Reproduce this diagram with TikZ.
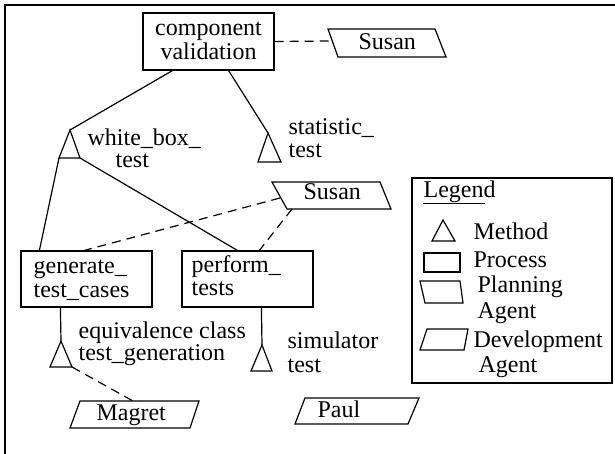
\documentclass[tikz,border=0pt]{standalone}
\usepackage{fontspec}
\setmainfont{Liberation Serif}
\begin{document}
\begin{tikzpicture}[x=1pt,y=-1pt,line width=1.2pt,
  font=\fontsize{24}{24.5}\selectfont,
  lbl/.style={anchor=base west,inner sep=0pt},
  lblc/.style={anchor=base,inner sep=0pt},
  proc/.style={draw,inner sep=0pt},
  dsh/.style={dash pattern=on 9pt off 6pt},
  shp/.style={line width=1.2pt}]
\useasboundingbox (0,0) rectangle (615,454);
% outer frame
\draw (5,454) -- (5,5) -- (615,5);

% process boxes
\node[proc,minimum width=131pt,minimum height=57pt] (cv) at (208.5,41.5) {};
\node[lblc] (cvt1) at (208.5,36) {component};
\node[lblc] (cvt2) at (208.5,60) {validation};
\node[proc,minimum width=131pt,minimum height=56pt] (gen) at (86.5,279) {};
\node[lbl] (gent1) at (33,273) {generate\_};
\node[lbl] (gent2) at (33,297) {test\_cases};
\node[proc,minimum width=131pt,minimum height=56pt] (perf) at (247.5,279) {};
\node[lbl] (perft1) at (191,272) {perform\_};
\node[lbl] (perft2) at (191,295) {tests};

% method triangles
\coordinate (wbA) at (70,130); \coordinate (wbL) at (59,158); \coordinate (wbR) at (80,158);
\draw[shp] (wbA) -- (wbL) -- (wbR) -- cycle;
\node[lbl] (wbt1) at (87,146) {white\_box\_};
\node[lbl] (wbt2) at (115,168) {test};
\coordinate (stA) at (268,133); \coordinate (stL) at (258,162); \coordinate (stR) at (281,162);
\draw[shp] (stA) -- (stL) -- (stR) -- cycle;
\node[lbl] (stt1) at (288,135) {statistic\_};
\node[lbl] (stt2) at (288,158) {test};
\coordinate (eqA) at (61,341); \coordinate (eqL) at (50,367); \coordinate (eqR) at (72,367);
\draw[shp] (eqA) -- (eqL) -- (eqR) -- cycle;
\node[lbl] (eqt1) at (78,338) {equivalence class};
\node[lbl] (eqt2) at (78,360) {test\_generation};
\coordinate (smA) at (262,345); \coordinate (smL) at (251,371); \coordinate (smR) at (272,371);
\draw[shp] (smA) -- (smL) -- (smR) -- cycle;
\node[lbl] (smt1) at (287,348) {simulator};
\node[lbl] (smt2) at (287,372) {test};

% agents
\draw[shp] (328,29) -- (435,29) -- (446,57) -- (338,57) -- cycle;
\node[lbl] (su1) at (358,50) {Susan};
\draw[shp] (272,182) -- (380,182) -- (391,209) -- (287,209) -- cycle;
\node[lbl] (su2) at (303,200) {Susan};
\draw[shp] (80,401) -- (199,401) -- (190,428) -- (70,428) -- cycle;
\node[lbl] (mg) at (96,420) {Magret};
\draw[shp] (305,398) -- (419,398) -- (408,424) -- (295,424) -- cycle;
\node[lbl] (pa) at (317,417) {Paul};

% connector end points
\coordinate (su1L) at (332,41);
\coordinate (su2L) at (280,198);
\coordinate (su2B) at (292,209);
\coordinate (mgT) at (133,401);

% connectors
\draw ([xshift=30pt]cv.south west) -- (wbA);
\draw ([xshift=-46pt]cv.south east) -- (stA);
\draw[dsh] (cv.east) -- (su1L);
\draw (wbL) -- ([xshift=19pt]gen.north west);
\draw (wbR) -- ([xshift=56pt]perf.north west);
\draw[dsh] (su2L) -- ([xshift=64pt]gen.north west);
\draw[dsh] (su2B) -- ([xshift=78pt]perf.north west);
\draw ([xshift=40pt]gen.south west) -- (eqA);
\draw ([xshift=80pt]perf.south west) -- (smA);
\draw[dsh] (eqR) -- (mgT);

% legend
\node[draw,minimum width=200pt,minimum height=205pt,inner sep=0pt] (leg) at (512,280.5) {};
\node[lbl] (legt) at (423,198) {Legend};
\draw[line width=0.9pt] (423,203) -- (485,203);
\draw[shp] (443,220) -- (432,241) -- (455,241) -- cycle;
\node[lbl] (lm) at (473,240) {Method};
\draw[shp] (424,253) rectangle (460,272);
\node[lbl] (lp) at (473,267) {Process};
\draw[shp] (420,281) -- (460,281) -- (463,303) -- (425,303) -- cycle;
\node[lbl] (lpa1) at (477,292) {Planning};
\node[lbl] (lpa2) at (477,318) {Agent};
\draw[shp] (427,329) -- (468,329) -- (464,350) -- (420,350) -- cycle;
\node[lbl] (lda1) at (473,347) {Development};
\node[lbl] (lda2) at (478,372) {Agent};
\end{tikzpicture}
\end{document}
